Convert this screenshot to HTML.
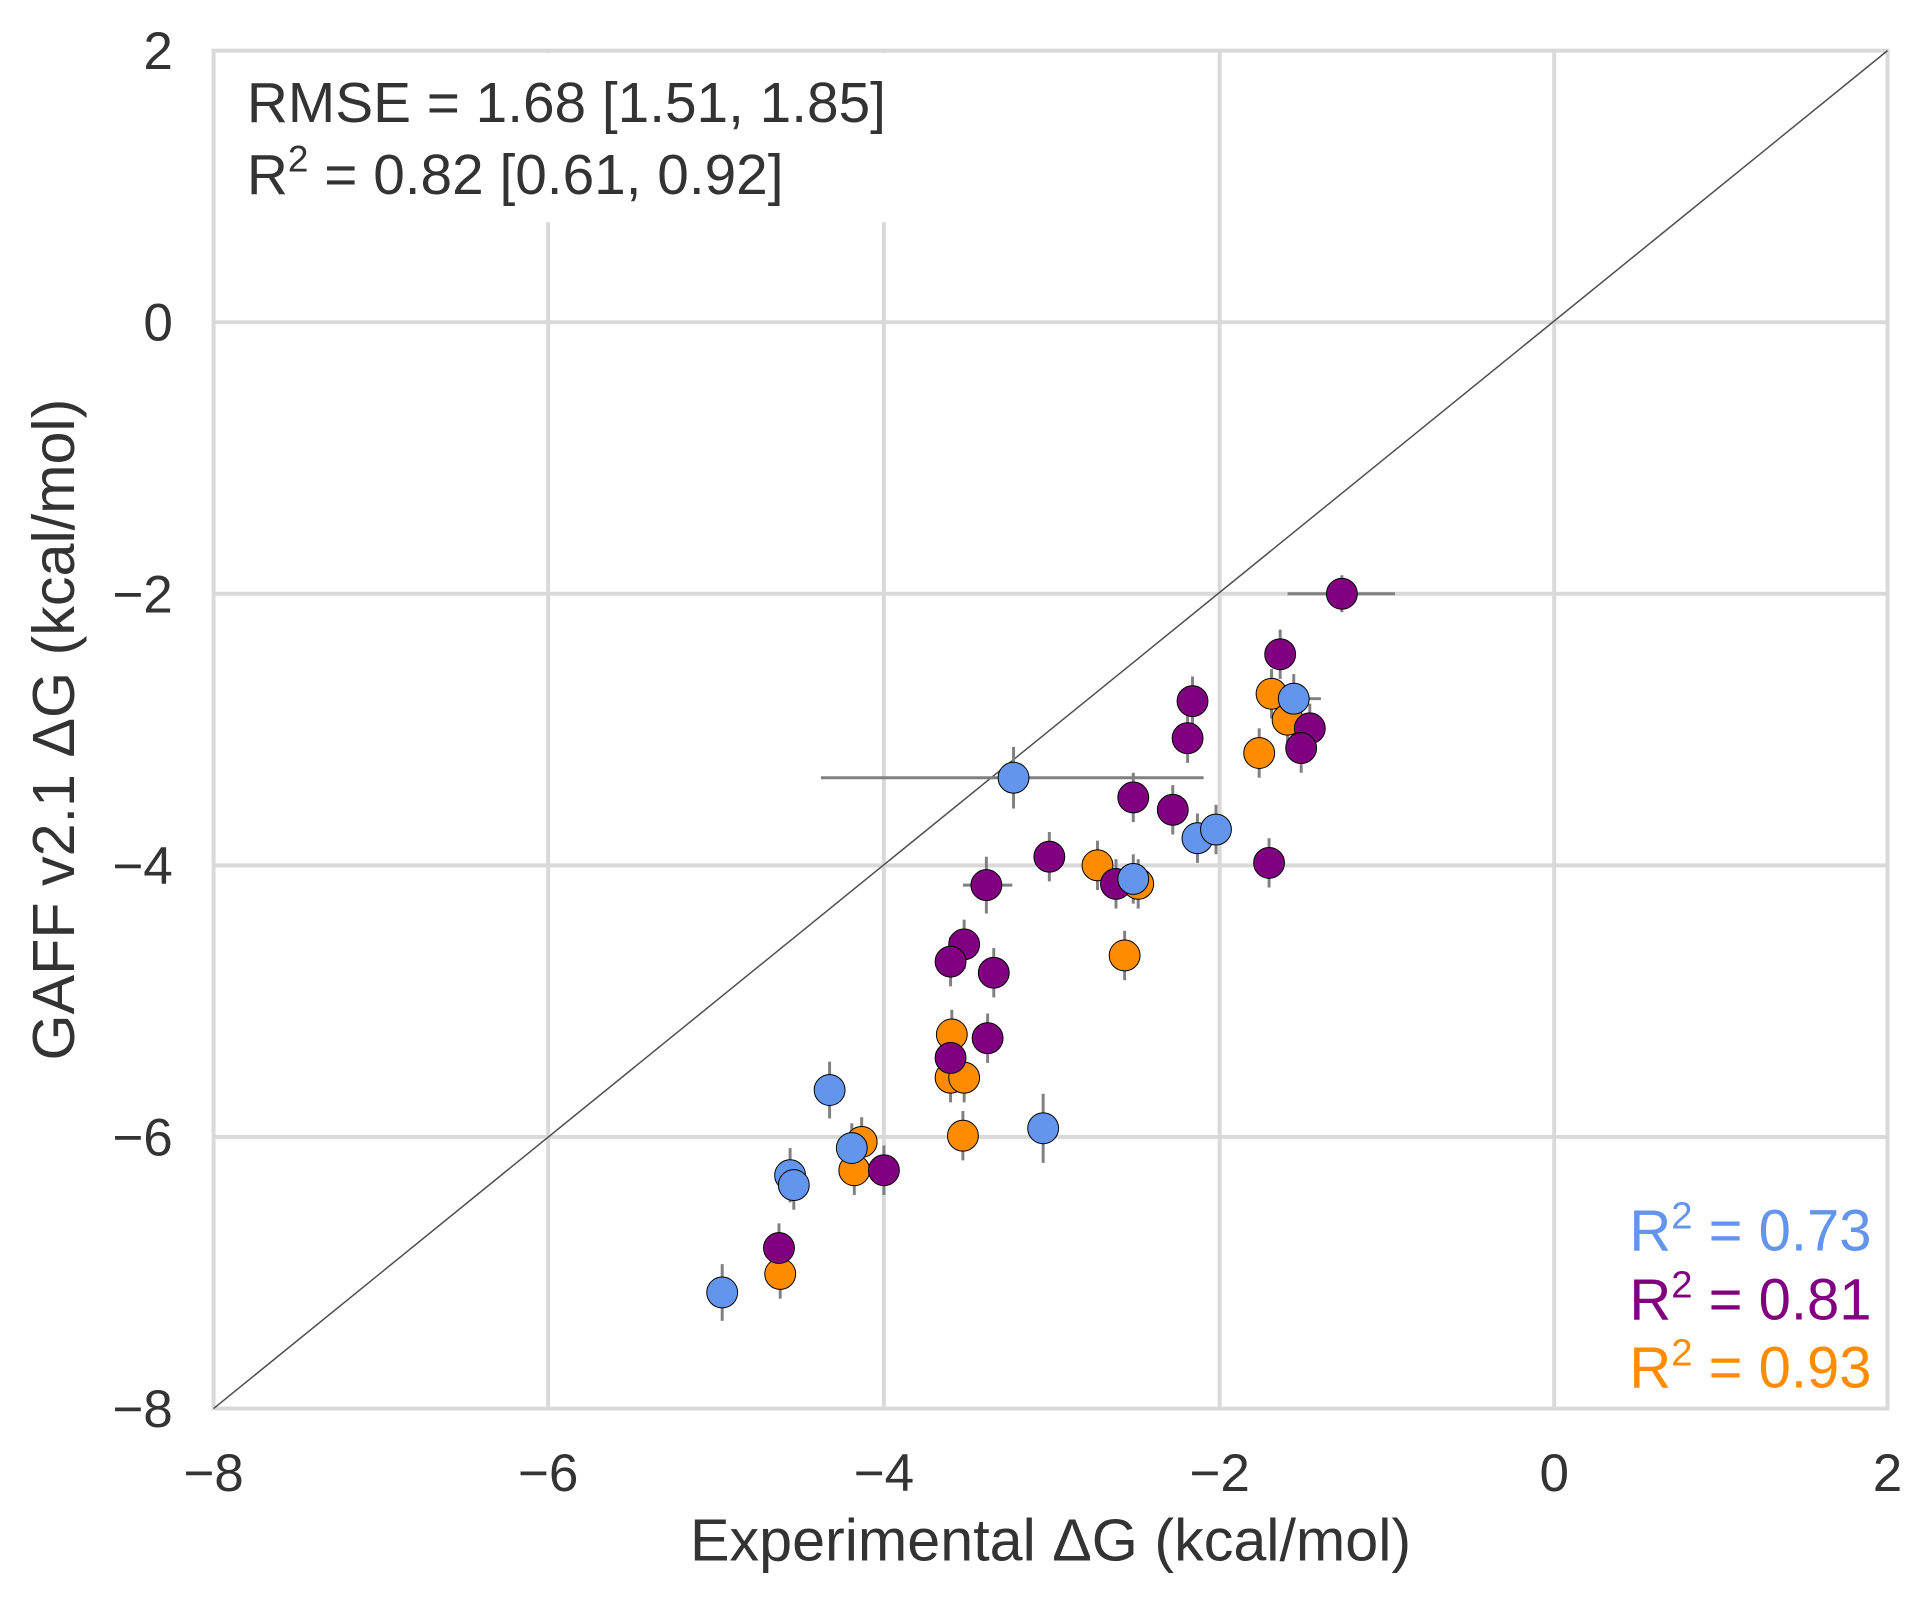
<!DOCTYPE html>
<html><head><meta charset="utf-8"><style>html,body{margin:0;padding:0;background:#fff}svg{display:block}</style></head>
<body>
<svg width="1932" height="1599" viewBox="0 0 1565 1295.3" xmlns="http://www.w3.org/2000/svg" font-family="Liberation Sans, sans-serif">
<rect width="1565" height="1296" fill="#fff"/>
<g stroke="#d9d9d9" stroke-width="3.2">
<line x1="444" y1="41" x2="444" y2="1141"/><line x1="716" y1="41" x2="716" y2="1141"/><line x1="988" y1="41" x2="988" y2="1141"/><line x1="1259" y1="41" x2="1259" y2="1141"/>
<line x1="173" y1="261" x2="1529" y2="261"/><line x1="173" y1="481" x2="1529" y2="481"/><line x1="173" y1="701" x2="1529" y2="701"/><line x1="173" y1="921" x2="1529" y2="921"/>
</g>
<rect x="175" y="43" width="570" height="137" fill="#fff"/>
<rect x="173" y="41" width="1356" height="1100" fill="none" stroke="#d9d9d9" stroke-width="3.2"/>
<line x1="173" y1="1141" x2="1529" y2="41" stroke="#4d4d4d" stroke-width="1.2"/>
<g fill="#333" font-size="46">
<text x="200" y="99">RMSE = 1.68 [1.51, 1.85]</text>
<text x="200" y="157">R<tspan font-size="30" dy="-18">2</tspan><tspan dy="18"> = 0.82 [0.61, 0.92]</tspan></text>
</g>
<g fill="#333" font-size="43" text-anchor="middle">
<text x="173" y="1208">−8</text><text x="444" y="1208">−6</text><text x="716" y="1208">−4</text><text x="988" y="1208">−2</text><text x="1259" y="1208">0</text><text x="1529" y="1208">2</text>
</g>
<g fill="#333" font-size="43" text-anchor="end">
<text x="140" y="56">2</text><text x="140" y="276">0</text><text x="140" y="496">−2</text><text x="140" y="716">−4</text><text x="140" y="936">−6</text><text x="140" y="1156">−8</text>
</g>
<text x="851" y="1264" fill="#333" font-size="48" text-anchor="middle">Experimental ΔG (kcal/mol)</text>
<text transform="translate(60 591) rotate(-90)" fill="#333" font-size="48" text-anchor="middle">GAFF v2.1 ΔG (kcal/mol)</text>
<g stroke="#808080" stroke-width="2.4">
<line x1="665" y1="630" x2="975" y2="630"/><line x1="1043" y1="481" x2="1130" y2="481"/>
<line x1="780" y1="717" x2="820" y2="717"/><line x1="1030" y1="566" x2="1070" y2="566"/>
<line x1="1030" y1="542" x2="1030" y2="582"/><line x1="1043" y1="563" x2="1043" y2="603"/><line x1="1020" y1="590" x2="1020" y2="630"/><line x1="889" y1="681" x2="889" y2="721"/><line x1="922" y1="696" x2="922" y2="736"/><line x1="911" y1="754" x2="911" y2="794"/><line x1="771" y1="818" x2="771" y2="858"/><line x1="770" y1="853" x2="770" y2="893"/><line x1="781" y1="853" x2="781" y2="893"/><line x1="780" y1="900" x2="780" y2="940"/><line x1="698" y1="905" x2="698" y2="945"/><line x1="692" y1="928" x2="692" y2="968"/><line x1="632" y1="1012" x2="632" y2="1052"/>
<line x1="1087" y1="466" x2="1087" y2="496"/><line x1="1037" y1="510" x2="1037" y2="550"/><line x1="966" y1="548" x2="966" y2="588"/><line x1="962" y1="578" x2="962" y2="618"/><line x1="1061" y1="570" x2="1061" y2="610"/><line x1="1054" y1="586" x2="1054" y2="626"/><line x1="918" y1="626" x2="918" y2="666"/><line x1="950" y1="636" x2="950" y2="676"/><line x1="850" y1="674" x2="850" y2="714"/><line x1="1028" y1="679" x2="1028" y2="719"/><line x1="904" y1="696" x2="904" y2="736"/><line x1="799" y1="694" x2="799" y2="740"/><line x1="781" y1="745" x2="781" y2="785"/><line x1="770" y1="759" x2="770" y2="799"/><line x1="805" y1="768" x2="805" y2="808"/><line x1="800" y1="821" x2="800" y2="861"/><line x1="770" y1="837" x2="770" y2="877"/><line x1="716" y1="928" x2="716" y2="968"/><line x1="631" y1="991" x2="631" y2="1031"/>
<line x1="1048" y1="546" x2="1048" y2="586"/><line x1="821" y1="605" x2="821" y2="655"/><line x1="970" y1="659" x2="970" y2="699"/><line x1="985" y1="652" x2="985" y2="692"/><line x1="918" y1="692" x2="918" y2="732"/><line x1="672" y1="860" x2="672" y2="906"/><line x1="845" y1="886" x2="845" y2="942"/><line x1="690" y1="910" x2="690" y2="950"/><line x1="640" y1="930" x2="640" y2="974"/><line x1="643" y1="940" x2="643" y2="980"/><line x1="585" y1="1024" x2="585" y2="1070"/>
</g>
<g stroke="#000" stroke-width="0.8" fill="#FF8C00">
<circle cx="1030" cy="562" r="12.5"/><circle cx="1043" cy="583" r="12.5"/><circle cx="1020" cy="610" r="12.5"/><circle cx="889" cy="701" r="12.5"/><circle cx="922" cy="716" r="12.5"/><circle cx="911" cy="774" r="12.5"/><circle cx="771" cy="838" r="12.5"/><circle cx="770" cy="873" r="12.5"/><circle cx="781" cy="873" r="12.5"/><circle cx="780" cy="920" r="12.5"/><circle cx="698" cy="925" r="12.5"/><circle cx="692" cy="948" r="12.5"/><circle cx="632" cy="1032" r="12.5"/>
</g>
<g stroke="#000" stroke-width="0.8" fill="#800080">
<circle cx="1087" cy="481" r="12.5"/><circle cx="1037" cy="530" r="12.5"/><circle cx="966" cy="568" r="12.5"/><circle cx="962" cy="598" r="12.5"/><circle cx="1061" cy="590" r="12.5"/><circle cx="1054" cy="606" r="12.5"/><circle cx="918" cy="646" r="12.5"/><circle cx="950" cy="656" r="12.5"/><circle cx="850" cy="694" r="12.5"/><circle cx="1028" cy="699" r="12.5"/><circle cx="904" cy="716" r="12.5"/><circle cx="799" cy="717" r="12.5"/><circle cx="781" cy="765" r="12.5"/><circle cx="770" cy="779" r="12.5"/><circle cx="805" cy="788" r="12.5"/><circle cx="800" cy="841" r="12.5"/><circle cx="770" cy="857" r="12.5"/><circle cx="716" cy="948" r="12.5"/><circle cx="631" cy="1011" r="12.5"/>
</g>
<g stroke="#000" stroke-width="0.8" fill="#6495ED">
<circle cx="1048" cy="566" r="12.5"/><circle cx="821" cy="630" r="12.5"/><circle cx="970" cy="679" r="12.5"/><circle cx="985" cy="672" r="12.5"/><circle cx="918" cy="712" r="12.5"/><circle cx="672" cy="883" r="12.5"/><circle cx="845" cy="914" r="12.5"/><circle cx="690" cy="930" r="12.5"/><circle cx="640" cy="952" r="12.5"/><circle cx="643" cy="960" r="12.5"/><circle cx="585" cy="1047" r="12.5"/>
</g>
<g font-size="47" text-anchor="end">
<text x="1516" y="1013" fill="#6495ED">R<tspan font-size="31" dy="-18">2</tspan><tspan dy="18"> = 0.73</tspan></text>
<text x="1516" y="1069" fill="#800080">R<tspan font-size="31" dy="-18">2</tspan><tspan dy="18"> = 0.81</tspan></text>
<text x="1516" y="1124" fill="#FF8C00">R<tspan font-size="31" dy="-18">2</tspan><tspan dy="18"> = 0.93</tspan></text>
</g>
</svg>
</body></html>
